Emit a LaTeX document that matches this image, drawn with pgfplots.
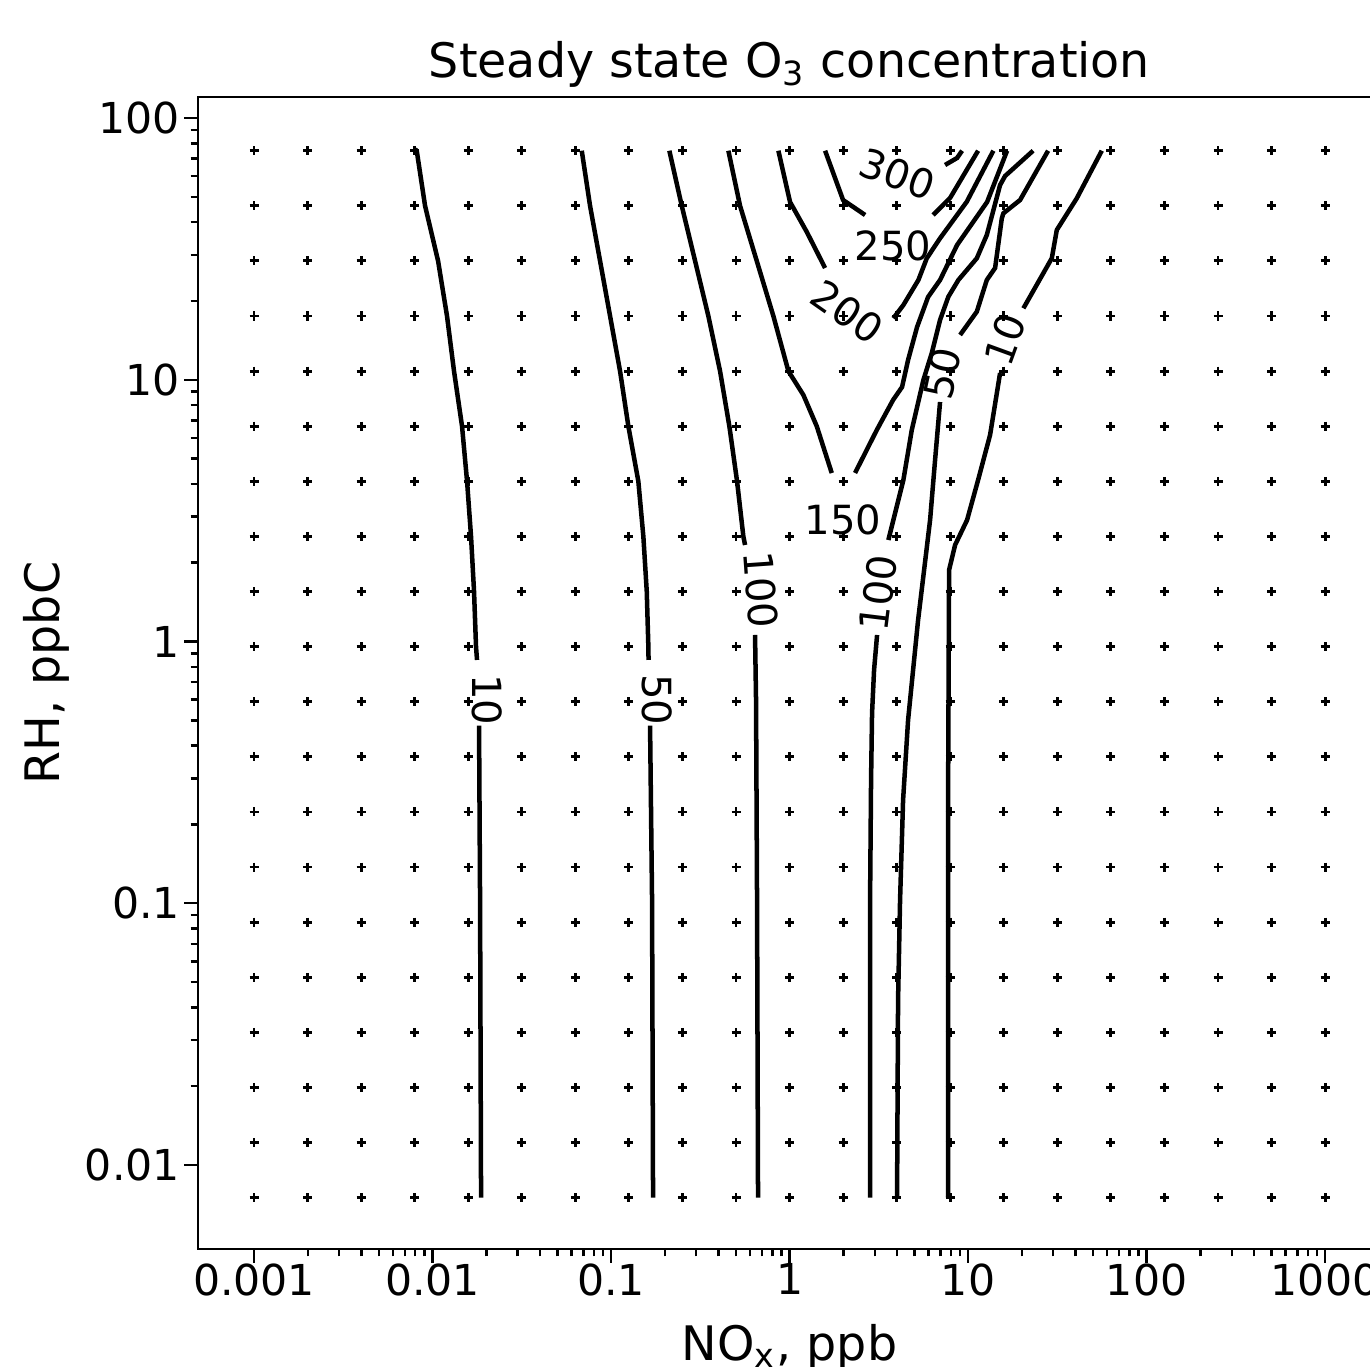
\documentclass[border=0pt]{standalone}
\usepackage{fontspec}
\setmainfont{DejaVu Sans}
\usepackage{pgfplots}
\usepackage{pgfplotstable}
\pgfplotsset{compat=1.18}
\tikzset{
  ctr/.style={black, line width=1.1pt, mark=none},
  lbl/.style={font=\fontsize{9.8}{12}\selectfont, inner sep=0pt},
}

% model grid (NOx values); RH values are looped below
\pgfplotstableread{
k x
0 0.001
1 0.001995
2 0.003981
3 0.007943
4 0.01585
5 0.03162
6 0.06310
7 0.1259
8 0.2512
9 0.5012
10 1
11 1.995
12 3.981
13 7.943
14 15.85
15 31.62
16 63.10
17 125.9
18 251.2
19 501.2
20 1000
}\xgrid

\begin{document}
\begin{tikzpicture}
\begin{axis}[at={(0,0)}, anchor=south west,
  scale only axis, width=288.65pt, height=281.09pt,
  xmode=log, ymode=log,
  xmin=4.853e-4, xmax=2056, ymin=4.776e-3, ymax=120.3,
  xtick={0.001,0.01,0.1,1,10,100,1000},
  xticklabels={0.001,0.01,0.1,1,10,100,1000},
  ytick={0.01,0.1,1,10,100},
  yticklabels={0.01,0.1,1,10,100},
  tick align=outside, xtick pos=left, ytick pos=left,
  major tick length=3.3pt, minor tick length=1.8pt,
  tick style={black, line width=0.6pt},
  axis line style={line width=0.7pt},
  tick label style={font=\fontsize{10.4}{12}\selectfont},
  xticklabel style={yshift=3.2pt},
  yticklabel style={xshift=2.4pt},
  label style={font=\fontsize{11.6}{14}\selectfont},
  ylabel shift=-3pt,
  title style={font=\fontsize{11.6}{14}\selectfont, yshift=-7.3pt},
  title={Steady state O\textsubscript{3} concentration},
  xlabel={NO\textsubscript{x}, ppb},
  ylabel={RH, ppbC},
]
\pgfplotsinvokeforeach{0.0075,0.01218,0.01978,0.03211,0.05214,0.08467,0.1375,
  0.2232,0.3624,0.5885,0.9556,1.551,2.519,4.090,6.642,10.79,17.52,28.44,46.18,75}{
  \addplot[only marks, mark=+, mark size=1.1pt, mark options={line width=0.7pt}]
    table[x=x, y expr=#1] {\xgrid};
}

% 10
\addplot[ctr] coordinates {(8.0e-3,76) (8.155e-3,75) (9.08e-3,46.18) (1.074e-2,28.44) (1.205e-2,17.52)
  (1.319e-2,10.79) (1.463e-2,6.642) (1.561e-2,4.090) (1.643e-2,2.519) (1.708e-2,1.551)
  (1.752e-2,0.9556) (1.775e-2,0.850)};
\addplot[ctr] coordinates {(1.822e-2,0.477) (1.846e-2,0.103) (1.870e-2,0.0075)};
% 50
\addplot[ctr] coordinates {(6.853e-2,75) (7.628e-2,46.18) (8.678e-2,28.44) (9.872e-2,17.52)
  (0.1123,10.79) (0.1250,6.642) (0.1422,4.090) (0.1517,2.519) (0.1585,1.551)
  (0.1618,0.9556) (0.1622,0.850)};
\addplot[ctr] coordinates {(0.1654,0.477) (0.1697,0.103) (0.1719,0.0075)};
% 100 (low NOx side)
\addplot[ctr] coordinates {(0.2121,75) (0.2489,46.18) (0.2956,28.44) (0.3508,17.52)
  (0.4079,10.79) (0.4600,6.642) (0.5081,4.090) (0.5510,2.519) (0.5632,2.337)};
\addplot[ctr] coordinates {(0.6406,1.059) (0.6489,0.598) (0.6574,0.103) (0.6659,0.0075)};
% 150
\addplot[ctr] coordinates {(0.4541,75) (0.5280,46.18) (0.6549,28.44) (0.8114,17.52)
  (0.9847,10.79) (1.195,8.744) (1.420,6.642) (1.723,4.402)};
\addplot[ctr] coordinates {(2.327,4.402) (3.080,6.427) (3.800,8.367) (4.268,9.383)
  (4.612,11.90) (5.180,15.91) (5.969,20.71) (6.967,24.05) (8.679,32.72) (12.78,47.76) (16.54,75)};
% 200
\addplot[ctr] coordinates {(0.8656,75) (1.006,47.76) (1.249,36.68) (1.581,26.73)};
\addplot[ctr] coordinates {(3.815,17.17) (4.340,19.30) (5.268,24.05) (5.870,29.11)
  (6.967,34.71) (9.833,47.88) (13.86,75)};
% 250
\addplot[ctr] coordinates {(1.581,75) (1.994,48.6) (2.649,42.6)};
\addplot[ctr] coordinates {(6.366,42.6) (7.928,49.48) (11.38,75)};
% 300
\addplot[ctr] coordinates {(9.256,75) (8.679,70.35) (7.43,66.14)};
% 100 (high NOx side)
\addplot[ctr] coordinates {(2.825,0.0075) (2.825,0.103) (2.861,0.2958) (2.898,0.5331)
  (2.974,0.7783) (3.092,1.059)};
\addplot[ctr] coordinates {(3.577,2.442) (4.340,4.140) (4.837,6.427) (5.618,9.977)
  (6.262,12.65) (6.967,16.92) (7.757,20.77) (8.825,24.05) (11.19,29.11) (12.73,35.73)
  (15.11,55.46) (16.12,60.03) (23.13,75)};
% 50 (high NOx side)
\addplot[ctr] coordinates {(4.001,0.0075) (4.053,0.0427) (4.159,0.103) (4.324,0.248)
  (4.612,0.5013) (5.248,1.208) (6.126,2.912) (6.533,4.935) (6.967,8.222)};
\addplot[ctr] coordinates {(9.020,14.83) (11.19,18.2) (12.73,24.05) (14.17,26.73)
  (15.45,41.38) (15.77,43.24) (19.56,48.6) (28.07,75)};
% 10 (high NOx side)
\addplot[ctr] coordinates {(7.727,0.0075) (7.727,0.248) (7.827,1.876) (8.458,2.337)
  (9.872,2.912) (11.38,4.140) (13.28,6.151) (15.11,10.61)};
\addplot[ctr] coordinates {(20.41,18.75) (29.44,29.11) (31.40,37.34) (40.64,49.35) (56.10,75)};

% inline labels
\node[lbl, rotate=-90] at (axis cs:2.020e-2,0.5977) {10};
\node[lbl, rotate=-90] at (axis cs:0.1810,0.598) {50};
\node[lbl, rotate=-86] at (axis cs:0.6923,1.573) {100};
\node[lbl] at (axis cs:1.994,2.912) {150};
\node[lbl, rotate=-35] at (axis cs:2.100,18.15) {200};
\node[lbl] at (axis cs:3.800,32.43) {250};
\node[lbl, rotate=-20] at (axis cs:4.001,61.1) {300};
\node[lbl, rotate=83] at (axis cs:3.132,1.532) {100};
\node[lbl, rotate=78] at (axis cs:7.149,10.61) {50};
\node[lbl, rotate=70] at (axis cs:16.12,14.19) {10};
\end{axis}
\pgfresetboundingbox
\path[use as bounding box] (-48.31pt,-28.55pt) rectangle (285.97pt,304.76pt);
\end{tikzpicture}
\end{document}
